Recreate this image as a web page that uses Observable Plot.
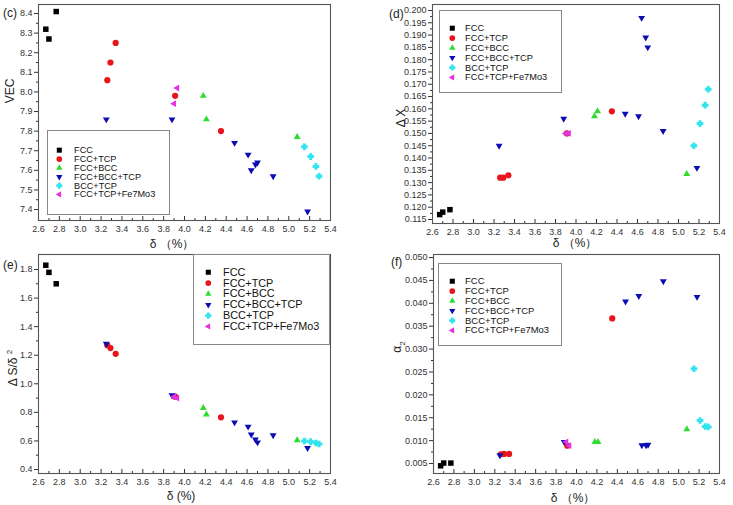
<!DOCTYPE html>
<html><head><meta charset="utf-8">
<script src="https://cdn.jsdelivr.net/npm/d3@7"></script>
<script src="https://cdn.jsdelivr.net/npm/@observablehq/plot@0.6"></script>
<style>
body{margin:0;background:#fff;font-family:"Liberation Sans",Arial,sans-serif;}
#root{position:relative;width:733px;height:505px;overflow:hidden;background:#fff;}
#root svg{position:absolute;overflow:visible;}
.lbl{position:absolute;font-size:12px;color:#222;white-space:nowrap;line-height:1;}
.ylbl{transform:translate(-50%,-50%) rotate(-90deg);}
.xlbl{transform:translate(-50%,-50%);}
.lgd{position:absolute;border:1px solid #888;box-sizing:border-box;background:#fff;}
.lgd svg{position:absolute;left:0;top:0;}
</style></head><body><div id="root"></div>
<script>
// ---------- data ----------
const phases = ["FCC","FCC+TCP","FCC+BCC","FCC+BCC+TCP","BCC+TCP","FCC+TCP+Fe7Mo3"];
const phaseColors = ["#000000","#e8141c","#2edc2e","#0c0cb4","#30e4f0","#e232e2"];

const alloyPhase = [
  "FCC","FCC","FCC",
  "FCC+TCP","FCC+TCP","FCC+TCP","FCC+TCP","FCC+TCP",
  "FCC+BCC","FCC+BCC","FCC+BCC",
  "FCC+BCC+TCP","FCC+BCC+TCP","FCC+BCC+TCP","FCC+BCC+TCP","FCC+BCC+TCP","FCC+BCC+TCP","FCC+BCC+TCP","FCC+BCC+TCP","FCC+BCC+TCP",
  "BCC+TCP","BCC+TCP","BCC+TCP","BCC+TCP",
  "FCC+TCP+Fe7Mo3","FCC+TCP+Fe7Mo3"
];
const alloyDelta = [
  2.67,2.70,2.77,
  3.26,3.29,3.34,3.91,4.35,
  4.18,4.21,5.08,
  3.25,3.88,4.48,4.61,4.64,4.68,4.70,4.85,5.18,
  5.15,5.21,5.26,5.29,
  3.90,3.93
];
const vecValues = [
  8.32,8.27,8.41,
  8.06,8.15,8.25,7.98,7.80,
  7.98,7.86,7.77,
  7.86,7.86,7.74,7.68,7.60,7.63,7.64,7.57,7.39,
  7.72,7.67,7.62,7.57,
  7.94,8.02
];
const deltaXValues = [
  0.117,0.118,0.119,
  0.132,0.132,0.133,0.150,0.159,
  0.157,0.159,0.1335,
  0.145,0.156,0.158,0.157,0.197,0.189,0.185,0.151,0.136,
  0.145,0.154,0.1615,0.168,
  0.150,0.150
];
const entropyRatioValues = [
  1.83,1.78,1.70,
  1.27,1.25,1.21,0.91,0.765,
  0.83,0.785,0.605,
  1.28,0.92,0.73,0.70,0.645,0.61,0.59,0.64,0.55,
  0.60,0.595,0.585,0.578,
  0.91,0.90
];
const alpha2Values = [
  0.0045,0.0051,0.0051,
  0.0070,0.0071,0.0071,0.0089,0.0367,
  0.0097,0.0097,0.0125,
  0.0068,0.0097,0.0404,0.0416,0.0090,0.0090,0.0091,0.0448,0.0414,
  0.0257,0.0144,0.0131,0.0130,
  0.0097,0.0089
];

const xMajorTicks = [2.6,2.8,3.0,3.2,3.4,3.6,3.8,4.0,4.2,4.4,4.6,4.8,5.0,5.2,5.4];
const vecTicks = [7.4,7.5,7.6,7.7,7.8,7.9,8.0,8.1,8.2,8.3,8.4];
const deltaXTicks = [0.115,0.120,0.125,0.130,0.135,0.140,0.145,0.150,0.155,0.160,0.165,0.170,0.175,0.180,0.185,0.190,0.195,0.200];
const entropyTicks = [0.4,0.6,0.8,1.0,1.2,1.4,1.6,1.8];
const alpha2Ticks = [0.005,0.010,0.015,0.020,0.025,0.030,0.035,0.040,0.045,0.050];

// ---------- symbols ----------
const triScale = 0.82;
function tri(dir){
  return {draw(ctx, size){
    const s = Math.sqrt(size*4/Math.sqrt(3))*triScale, h = s*Math.sqrt(3)/2;
    if (dir === "up"){ctx.moveTo(0,-2*h/3);ctx.lineTo(s/2,h/3);ctx.lineTo(-s/2,h/3);}
    else if (dir === "down"){ctx.moveTo(0,2*h/3);ctx.lineTo(-s/2,-h/3);ctx.lineTo(s/2,-h/3);}
    else {ctx.moveTo(-2*h/3,0);ctx.lineTo(h/3,-s/2);ctx.lineTo(h/3,s/2);}
    ctx.closePath();
  }};
}
const plusBlob = {draw(ctx,size){
  const r = Math.sqrt(size)*0.6, a = r*0.45;
  ctx.moveTo(-a,-r);ctx.lineTo(a,-r);ctx.lineTo(a,-a);ctx.lineTo(r,-a);ctx.lineTo(r,a);ctx.lineTo(a,a);
  ctx.lineTo(a,r);ctx.lineTo(-a,r);ctx.lineTo(-a,a);ctx.lineTo(-r,a);ctx.lineTo(-r,-a);ctx.lineTo(-a,-a);ctx.closePath();
}};
const phaseSymbols = ["square","circle",tri("up"),tri("down"),plusBlob,tri("left")];

const root = document.getElementById("root");
const fontFamily = '"Liberation Sans", Arial, sans-serif';

function minorBetween(ticks){
  const out = [];
  for (let i=0;i<ticks.length-1;i++) out.push(+( (ticks[i]+ticks[i+1])/2 ).toFixed(6));
  return out;
}

function addLabel(html, x, y, cls, size){
  const d = document.createElement("div");
  d.className = "lbl " + (cls||"");
  d.style.left = x+"px"; d.style.top = y+"px";
  if (size) d.style.fontSize = size+"px";
  d.innerHTML = html;
  root.appendChild(d);
}

const panels = [
  {values: vecValues, box:[0,0,366,250], frame:[38,330,4,220], ydomain:[7.344,8.446], yticks: vecTicks, fmt: d3.format(".1f"),
   letter:"(c)", letterPos:[3,7], ylabel:"VEC", ylabelPos:[10,91], xlabel:"δ （%）", xlabelPos:[172,244],
   legend:{left:47,top:130,w:123,h:85,y0:12.7,y1:71.7,sx:11,dx:15,fs:9.3}},
  {values: deltaXValues, box:[366,0,367,250], frame:[432,719,4,223], ydomain:[0.11337,0.20244], yticks: deltaXTicks, fmt: d3.format(".3f"),
   letter:"(d)", letterPos:[389,8], ylabel:"Δ X", ylabelPos:[401,118], xlabel:"δ （%）", xlabelPos:[575,243],
   legend:{left:439,top:10,w:123,h:83,y0:12.5,y1:73,sx:12,dx:13,fs:9.4}},
  {values: entropyRatioValues, box:[0,250,366,255], frame:[38,330,254,473], ydomain:[0.372,1.905], yticks: entropyTicks, fmt: d3.format(".1f"),
   letter:"(e)", letterPos:[3,259], ylabel:"Δ S/δ <sup style='font-size:8px'>2</sup>", ylabelPos:[12,368], xlabel:"δ (%)", xlabelPos:[181,496],
   legend:{left:193,top:254,w:137,h:91,y0:11.7,y1:79.3,sx:14,dx:15,fs:11}},
  {values: alpha2Values, box:[366,250,367,255], frame:[433,719,254,473], ydomain:[0.00282,0.05066], yticks: alpha2Ticks, fmt: d3.format(".3f"),
   letter:"(f)", letterPos:[391,256], ylabel:"α<sub style='font-size:8px'>2</sub>", ylabelPos:[399,347], xlabel:"δ （%）", xlabelPos:[573,498],
   legend:{left:438,top:263,w:124,h:83,y0:12,y1:73,sx:13,dx:13,fs:9.6}}
];

for (const p of panels){
  const [bl,bt,bw,bh] = p.box, [fl,fr,ft,fb] = p.frame;
  const rows = alloyDelta.map((d,i)=>({delta:d, value:p.values[i], phase:alloyPhase[i]}));
  const chart = Plot.plot({
    width: bw, height: bh,
    marginLeft: fl-bl, marginRight: bl+bw-fr, marginTop: ft-bt, marginBottom: bt+bh-fb,
    style:{fontFamily, fontSize:"9px", color:"#333", background:"transparent", overflow:"visible"},
    x:{domain:[2.6,5.4]},
    y:{domain:p.ydomain},
    color:{domain:phases, range:phaseColors},
    symbol:{domain:phases, range:phaseSymbols},
    marks:[
      Plot.axisX({ticks:xMajorTicks, tickSize:0, tickPadding:5, tickFormat:d3.format(".1f"), label:null}),
      Plot.axisX({ticks:xMajorTicks, tickSize:-4, tickFormat:()=>"", label:null}),
      Plot.axisX({ticks:minorBetween(xMajorTicks), tickSize:-2, tickFormat:()=>"", label:null}),
      Plot.axisY({ticks:p.yticks, tickSize:4, tickPadding:2, tickFormat:p.fmt, label:null}),
      Plot.axisY({ticks:minorBetween(p.yticks), tickSize:2, tickFormat:()=>"", label:null}),
      Plot.frame({stroke:"#555", strokeWidth:1.1}),
      Plot.dot(rows, {x:"delta", y:"value", symbol:"phase", fill:"phase", stroke:"none", r:3.1})
    ]
  });
  chart.style.left = bl+"px"; chart.style.top = bt+"px";
  root.appendChild(chart);

  // legend
  const L = p.legend;
  const box = document.createElement("div");
  box.className = "lgd";
  box.style.left = L.left+"px"; box.style.top = L.top+"px";
  box.style.width = L.w+"px"; box.style.height = L.h+"px";
  const lg = Plot.plot({
    width: L.w, height: L.h, margin:0,
    style:{fontFamily, background:"transparent", overflow:"visible"},
    x:{axis:null, domain:[0,1], range:[L.sx-1, L.sx]},
    y:{axis:null, type:"point", domain:phases, range:[L.y0-1, L.y1-1]},
    color:{domain:phases, range:phaseColors},
    symbol:{domain:phases, range:phaseSymbols},
    marks:[
      Plot.dot(phases, {x:()=>1, y:d=>d, symbol:d=>d, fill:d=>d, stroke:"none", r:2.9}),
      Plot.text(phases, {x:()=>1, y:d=>d, text:d=>d, dx:L.dx, textAnchor:"start", fontSize:L.fs, fill:"#111"})
    ]
  });
  box.appendChild(lg);
  root.appendChild(box);

  addLabel(p.letter, p.letterPos[0], p.letterPos[1], "", 12);
  addLabel(p.ylabel, p.ylabelPos[0], p.ylabelPos[1], "ylbl", 12);
  addLabel(p.xlabel, p.xlabelPos[0], p.xlabelPos[1], "xlbl", 12);
}
</script></body></html>
